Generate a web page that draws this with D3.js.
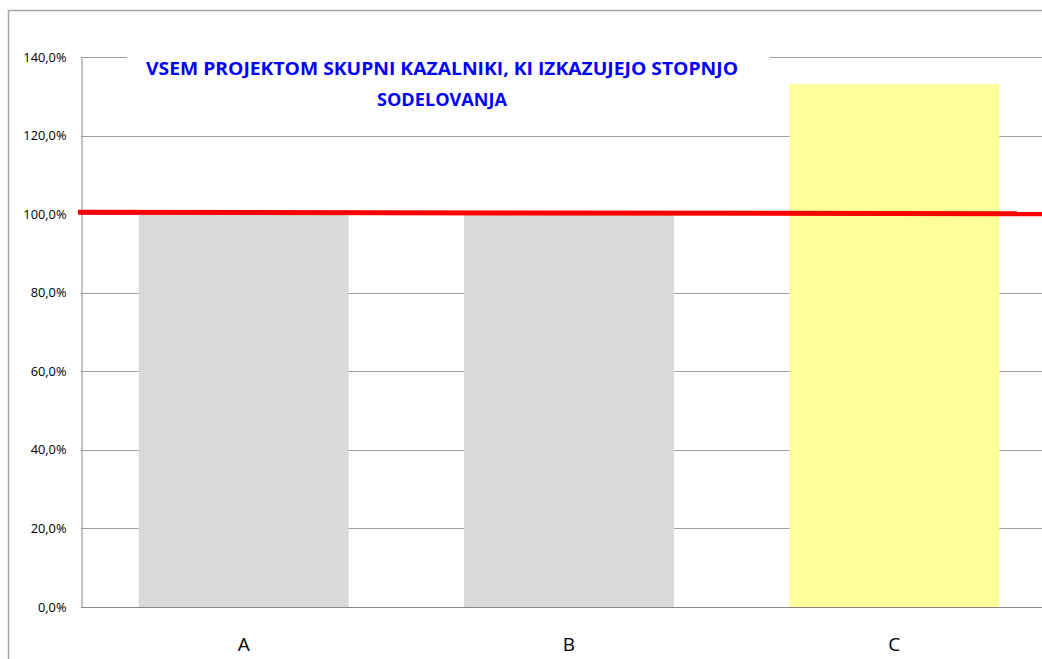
<!DOCTYPE html>
<html lang="sl">
  <head>
    <script src="https://d3js.org/d3.v7.min.js"></script>
    <meta charset="utf-8">
    <title></title>
    <style>
      body { margin: 0; background: #fff; }
    </style>
  </head>
  <body>
    <svg id="chart"></svg>
    <script type="text/javascript">

    // data
    var categories = ["A", "B", "C"];
    var values = [1.0, 0.998, 1.331];
    var barColors = ["#d9d9d9", "#d9d9d9", "#ffff99"];
    var yTicks = [0, 0.2, 0.4, 0.6, 0.8, 1.0, 1.2, 1.4];
    var targetLine = [1.0046, 1.0012];   // red line, left end / right end
    var titleLines = ["VSEM PROJEKTOM SKUPNI KAZALNIKI, KI IZKAZUJEJO STOPNJO", "SODELOVANJA"];

    var width = 1042;
    var height = 659;
    var margin = {left: 81, top: 57, right: -15, bottom: 52};

    var svg = d3.select("#chart")
      .attr("width", width)
      .attr("height", height);

    // outer chart frame
    svg.append("path")
      .attr("d", "M8.5," + height + "V10.5H" + width)
      .attr("fill", "none")
      .attr("stroke", "#a6a6a6")
      .attr("stroke-width", 1.5);

    var x = d3.scaleBand()
      .domain(categories)
      .range([margin.left, width - margin.right])
      .paddingInner(0.355)
      .paddingOuter(0.1775);

    var y = d3.scaleLinear()
      .domain([0, 1.4])
      .range([height - margin.bottom, margin.top]);

    var fmt = function(d) { return d3.format(".1f")(d * 100).replace(".", ",") + "%"; };

    // gridlines
    svg.append("g")
      .selectAll("line")
      .data(yTicks.filter(function(d) { return d > 0; }))
      .enter()
      .append("line")
      .attr("x1", margin.left)
      .attr("x2", width)
      .attr("y1", function(d) { return Math.round(y(d)) + 0.5; })
      .attr("y2", function(d) { return Math.round(y(d)) + 0.5; })
      .attr("stroke", "#a0a0a0")
      .attr("stroke-width", 1);

    // y axis
    var yAxis = svg.append("g")
      .attr("transform", "translate(" + (margin.left + 0.5) + ",0)")
      .call(d3.axisLeft(y).tickValues(yTicks).tickFormat(fmt).tickSize(0).tickPadding(15));
    yAxis.select(".domain").attr("stroke", "#888");
    yAxis.selectAll("text")
      .attr("font-family", "'Open Sans', sans-serif")
      .attr("font-size", 12.8)
      .attr("fill", "#000");

    // bars
    svg.append("g")
      .selectAll("rect")
      .data(values)
      .enter()
      .append("rect")
      .attr("x", function(d, i) { return x(categories[i]); })
      .attr("y", function(d) { return y(d); })
      .attr("width", x.bandwidth())
      .attr("height", function(d) { return y(0) - y(d); })
      .attr("fill", function(d, i) { return barColors[i]; });

    // x axis
    var xAxis = svg.append("g")
      .attr("transform", "translate(0," + (Math.round(y(0)) + 0.5) + ")")
      .call(d3.axisBottom(x).tickSize(0).tickPadding(30));
    xAxis.select(".domain").attr("stroke", "#888").attr("d", "M" + margin.left + ",0H" + width);
    xAxis.selectAll("text")
      .attr("font-family", "'Open Sans', sans-serif")
      .attr("font-size", 19)
      .attr("fill", "#000");

    // red reference line
    svg.append("line")
      .attr("x1", margin.left - 3)
      .attr("x2", width)
      .attr("y1", y(targetLine[0]))
      .attr("y2", y(targetLine[1]))
      .attr("stroke", "#ff0000")
      .attr("stroke-width", 5);

    // title with white box over the top gridline
    svg.append("rect")
      .attr("x", 127)
      .attr("y", 50)
      .attr("width", 643)
      .attr("height", 20)
      .attr("fill", "#fff");

    var titleWidths = [592, 130];
    svg.append("g")
      .selectAll("text")
      .data(titleLines)
      .enter()
      .append("text")
      .attr("x", 442)
      .attr("y", function(d, i) { return 75 + i * 31; })
      .attr("text-anchor", "middle")
      .attr("font-family", "'Open Sans', sans-serif")
      .attr("font-weight", "bold")
      .attr("font-size", 18.5)
      .attr("textLength", function(d, i) { return titleWidths[i]; })
      .attr("lengthAdjust", "spacingAndGlyphs")
      .attr("fill", "#0000ff")
      .text(function(d) { return d; });

    </script>
  </body>
</html>
